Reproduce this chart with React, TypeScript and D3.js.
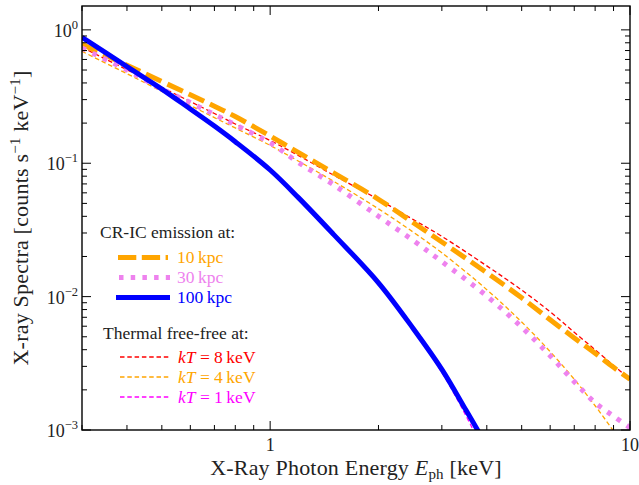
import React from "react";
import * as d3 from "d3";

// Photon energies (keV) at which the spectra are sampled
const energyFull = [0.3, 0.4, 0.5, 0.6, 0.7, 0.8, 1, 1.2, 1.5, 2, 2.5, 3, 4, 5, 6, 7, 8, 9, 10];
const energySoft = [0.3, 0.4, 0.5, 0.6, 0.7, 0.8, 1, 1.2, 1.5, 2, 2.5, 3, 3.5, 4];

// CR-IC emission spectra (counts s^-1 keV^-1)
const cric10 = [0.78, 0.543, 0.41, 0.326, 0.268, 0.224, 0.16, 0.12, 0.0847, 0.0537, 0.0358, 0.0257, 0.0151, 0.0098, 0.0067, 0.0049, 0.00376, 0.00295, 0.0024];
const cric30 = [0.73, 0.5, 0.36, 0.285, 0.232, 0.194, 0.142, 0.101, 0.069, 0.04, 0.0263, 0.0183, 0.0101, 0.0059, 0.0036, 0.0023, 0.0016, 0.00127, 0.00104];
const cric100 = [0.88, 0.53, 0.36, 0.255, 0.19, 0.145, 0.089, 0.055, 0.0293, 0.0127, 0.00575, 0.00285, 0.00141, 0.00076];

// Thermal free-free spectra
const ff8 = [0.74, 0.502, 0.371, 0.29, 0.236, 0.197, 0.148, 0.114, 0.0815, 0.0535, 0.0378, 0.0283, 0.017, 0.0112, 0.0077, 0.0054, 0.004, 0.00305, 0.0024];
const ff4 = [0.69, 0.469, 0.346, 0.271, 0.22, 0.184, 0.136, 0.1035, 0.0733, 0.0455, 0.0304, 0.0213, 0.01128, 0.00645, 0.00387, 0.0024, 0.00152, 0.00098, 0.00064];
const ff1 = [0.86, 0.525, 0.355, 0.255, 0.19, 0.145, 0.09, 0.0555, 0.0295, 0.0128, 0.0056, 0.0027, 0.00128, 0.00062];

const xMajor = [1, 10];
const yMajor = [1e-3, 1e-2, 1e-1, 1];
const yExponents = ["\u22123", "\u22122", "\u22121", "0"];

const W = 639;
const H = 485;
const M = { left: 82, right: 630, top: 6, bottom: 430 };
const FONT = "'Liberation Serif', 'Times New Roman', serif";

type Series = { key: string; e: number[]; v: number[]; color: string; width: number; dash?: string };

const thermal: Series[] = [
  { key: "ff8", e: energyFull, v: ff8, color: "#FF0000", width: 1.3, dash: "4.5,2.8" },
  { key: "ff4", e: energyFull, v: ff4, color: "#FFA500", width: 1.3, dash: "4.5,2.8" },
  { key: "ff1", e: energySoft, v: ff1, color: "#FF00FF", width: 1.3, dash: "4.5,2.8" },
];
const cric: Series[] = [
  { key: "c10", e: energyFull, v: cric10, color: "#FFA500", width: 5, dash: "17,6.5" },
  { key: "c30", e: energyFull, v: cric30, color: "#EE82EE", width: 5, dash: "4.5,7.2" },
  { key: "c100", e: energySoft, v: cric100, color: "#0000FF", width: 5 },
];

export default function App() {
  const x = d3.scaleLog().domain([0.3, 10]).range([M.left, M.right]);
  const y = d3.scaleLog().domain([1e-3, 1.51]).range([M.bottom, M.top]);

  const line = d3
    .line<[number, number]>()
    .x((d) => x(d[0]))
    .y((d) => y(d[1]))
    .curve(d3.curveCatmullRom.alpha(0.5));

  const path = (s: Series) => line(s.e.map((e, i) => [e, s.v[i]] as [number, number])) || "";

  // minor ticks
  const xMinor: number[] = [];
  [0.1, 1].forEach((dec) => {
    for (let k = 2; k <= 9; k++) {
      const v = k * dec;
      if (v >= 0.3 && v <= 10 && v !== 1) xMinor.push(v);
    }
  });
  const yMinor: number[] = [];
  [1e-3, 1e-2, 1e-1, 1].forEach((dec) => {
    for (let k = 2; k <= 9; k++) {
      const v = k * dec;
      if (v <= 1.51) yMinor.push(v);
    }
  });

  const majorLen = 9;
  const minorLen = 5;

  return (
    <svg
      width={W}
      height={H}
      style={{ position: "absolute", left: 0, top: 0, background: "#fff" }}
      fontFamily={FONT}
    >
      <defs>
        <clipPath id="plotArea">
          <rect x={M.left} y={M.top} width={M.right - M.left} height={M.bottom - M.top} />
        </clipPath>
      </defs>

      <g clipPath="url(#plotArea)">
        {thermal.concat(cric).map((s) => (
          <path
            key={s.key}
            d={path(s)}
            fill="none"
            stroke={s.color}
            strokeWidth={s.width}
            strokeDasharray={s.dash}
          />
        ))}
      </g>

      {/* ticks */}
      <g stroke="#000" strokeWidth={1}>
        {xMajor.map((v) => (
          <g key={"xM" + v}>
            <line x1={x(v)} x2={x(v)} y1={M.bottom} y2={M.bottom - majorLen} />
            <line x1={x(v)} x2={x(v)} y1={M.top} y2={M.top + majorLen} />
          </g>
        ))}
        {xMinor.map((v) => (
          <g key={"xm" + v}>
            <line x1={x(v)} x2={x(v)} y1={M.bottom} y2={M.bottom - minorLen} />
            <line x1={x(v)} x2={x(v)} y1={M.top} y2={M.top + minorLen} />
          </g>
        ))}
        {yMajor.map((v) => (
          <g key={"yM" + v}>
            <line x1={M.left} x2={M.left + majorLen} y1={y(v)} y2={y(v)} />
            <line x1={M.right} x2={M.right - majorLen} y1={y(v)} y2={y(v)} />
          </g>
        ))}
        {yMinor.map((v) => (
          <g key={"ym" + v}>
            <line x1={M.left} x2={M.left + minorLen} y1={y(v)} y2={y(v)} />
            <line x1={M.right} x2={M.right - minorLen} y1={y(v)} y2={y(v)} />
          </g>
        ))}
      </g>

      <rect
        x={M.left}
        y={M.top}
        width={M.right - M.left}
        height={M.bottom - M.top}
        fill="none"
        stroke="#000"
        strokeWidth={1.4}
      />

      {/* tick labels */}
      <g fontSize={18} fill="#222">
        {xMajor.map((v) => (
          <text key={"xl" + v} x={x(v)} y={451} textAnchor="middle">
            {String(v)}
          </text>
        ))}
        {yMajor.map((v, i) => (
          <text key={"yl" + v} x={78} y={y(v) + 7} textAnchor="end">
            10
            <tspan fontSize={12.5} dy={-8}>
              {yExponents[i]}
            </tspan>
          </text>
        ))}
      </g>

      {/* axis titles */}
      <text x={356} y={475} textAnchor="middle" fontSize={22} letterSpacing={0.2} fill="#222">
        X-Ray Photon Energy{" "}
        <tspan fontStyle="italic">E</tspan>
        <tspan fontSize={15} dy={4}>ph</tspan>
        <tspan dy={-4}> [keV]</tspan>
      </text>
      <text
        transform={`translate(28,${(M.top + M.bottom) / 2}) rotate(-90)`}
        textAnchor="middle"
        fontSize={22}
        letterSpacing={0.2}
        fill="#222"
      >
        X-ray Spectra [counts s
        <tspan fontSize={15} dy={-8}>{"\u22121"}</tspan>
        <tspan dy={8}> keV</tspan>
        <tspan fontSize={15} dy={-8}>{"\u22121"}</tspan>
        <tspan dy={8}>]</tspan>
      </text>

      {/* legend */}
      <g fontSize={17.5}>
        <text x={100} y={238} fill="#222">CR-IC emission at:</text>
        <line x1={118} x2={168} y1={257.5} y2={257.5} stroke="#FFA500" strokeWidth={5} strokeDasharray="18.3,5.5" />
        <text x={177} y={263} fill="#FFA500">10{"\u2009"}kpc</text>
        <line x1={119} x2={170} y1={277.5} y2={277.5} stroke="#EE82EE" strokeWidth={5} strokeDasharray="4.5,7.2" />
        <text x={177} y={283} fill="#EE82EE">30{"\u2009"}kpc</text>
        <line x1={116} x2={170} y1={297.5} y2={297.5} stroke="#0000FF" strokeWidth={5} />
        <text x={177} y={303} fill="#0000FF">100{"\u2009"}kpc</text>

        <text x={103} y={339} fill="#222">Thermal free-free at:</text>
        {[
          { c: "#FF0000", t: "8", yy: 357 },
          { c: "#FFA500", t: "4", yy: 377 },
          { c: "#FF00FF", t: "1", yy: 397 },
        ].map((d) => (
          <g key={d.t}>
            <line x1={120} x2={170} y1={d.yy} y2={d.yy} stroke={d.c} strokeWidth={1.3} strokeDasharray="4.5,2.8" />
            <text x={178} y={d.yy + 6} fill={d.c}>
              <tspan fontStyle="italic">kT</tspan>
              {" = " + d.t + "\u2009keV"}
            </text>
          </g>
        ))}
      </g>
    </svg>
  );
}
